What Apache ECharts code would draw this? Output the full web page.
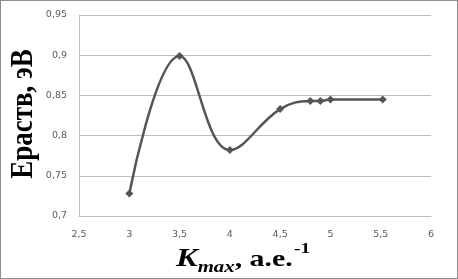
<!DOCTYPE html>
<html><head><meta charset="utf-8">
<script src="https://cdn.jsdelivr.net/npm/echarts@6/dist/echarts.min.js"></script>
<style>html,body{margin:0;padding:0;background:#fff}
#c{position:absolute;left:0;top:0;width:456px;height:277px;border:1px solid #8c8c8c}</style>
</head><body><div id="c"></div>
<script>
const xValues = [3, 3.5, 4, 4.5, 4.8, 4.9, 5, 5.52];
const yValues = [0.728, 0.899, 0.782, 0.833, 0.843, 0.843, 0.845, 0.845];
const xTicks = {min: 2.5, max: 6, step: 0.5};
const yTicks = {min: 0.7, max: 0.95, step: 0.05};
const yName = 'Ераств, эВ';
const xNameRich = '{k|K}{sub|max}{t|, а.е.}{sup|-1}';

const chart = echarts.init(document.getElementById('c'), null, {renderer: 'canvas'});
const comma = v => String(+v.toFixed(2)).replace('.', ',');
const serif = 'Liberation Serif';
chart.setOption({
  animation: false,
  grid: {left: 78, right: 26, top: 14, bottom: 62, containLabel: false, outerBoundsMode: 'none'},
  xAxis: {
    type: 'value', min: xTicks.min, max: xTicks.max, interval: xTicks.step,
    axisLine: {lineStyle: {color: '#bfbfbf', width: 1}},
    axisTick: {show: false},
    splitLine: {show: false},
    axisLabel: {formatter: comma, color: '#595959', fontSize: 9.5, fontFamily: 'DejaVu Sans', margin: 14}
  },
  yAxis: {
    type: 'value', min: yTicks.min, max: yTicks.max, interval: yTicks.step,
    axisLine: {show: true, lineStyle: {color: '#bfbfbf', width: 1}},
    axisTick: {show: false},
    splitLine: {lineStyle: {color: '#bfbfbf', width: 1}},
    axisLabel: {formatter: comma, color: '#595959', fontSize: 9.5, fontFamily: 'DejaVu Sans', margin: 12}
  },
  graphic: [
    {
      type: 'text', x: 23, y: 113, rotation: Math.PI / 2, scaleY: 1.18,
      style: {text: yName, font: 'bold 27px "Liberation Serif"', fill: '#000', align: 'center', verticalAlign: 'middle'}
    },
    {
      type: 'text', x: 175, y: 256, scaleX: 1.3,
      style: {
        text: xNameRich, fill: '#000', align: 'left', verticalAlign: 'middle',
        rich: {
          k: {fontSize: 25, fontFamily: serif, fontWeight: 'bold', fontStyle: 'italic', fill: '#000', lineHeight: 30, verticalAlign: 'bottom'},
          sub: {fontSize: 16, fontFamily: serif, fontWeight: 'bold', fontStyle: 'italic', fill: '#000', lineHeight: 30, verticalAlign: 'bottom', padding: [0,0,-4,0]},
          t: {fontSize: 23, fontFamily: serif, fontWeight: 'bold', fill: '#000', lineHeight: 30, verticalAlign: 'bottom'},
          sup: {fontSize: 15, fontFamily: serif, fontWeight: 'bold', fill: '#000', lineHeight: 30, verticalAlign: 'top', padding: [0,0,0,1]}
        }
      }
    }
  ],
  series: [{
    type: 'line', smooth: 0.4,
    data: xValues.map((x, i) => [x, yValues[i]]),
    symbol: 'diamond', symbolSize: 8,
    lineStyle: {color: '#555555', width: 2.5},
    itemStyle: {color: '#555555'}
  }]
});
</script></body></html>
